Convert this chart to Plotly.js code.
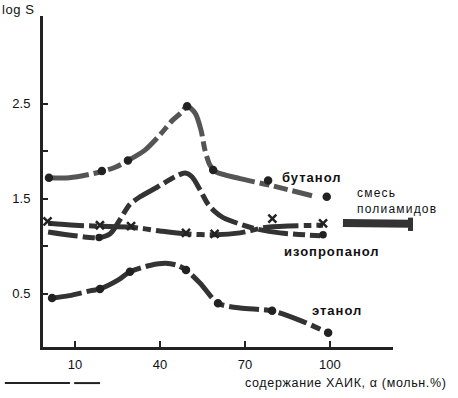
<!DOCTYPE html>
<html><head><meta charset="utf-8">
<script src="https://cdn.plot.ly/plotly-3.0.1.min.js"></script>
<style>body{margin:0;background:#fff}#c{width:458px;height:398px}</style>
</head><body><div id="c"></div>
<script>
// Butanol
const butX = [0.8, 8, 18.8, 24.2, 28.7, 34.7, 40, 44.3, 47.4, 49.6, 52.4, 54.5, 55.9, 57.7, 59.8, 68.3, 79, 93.7];
const butY = [1.72, 1.72, 1.78, 1.83, 1.90, 2.01, 2.17, 2.32, 2.40, 2.47, 2.40, 2.22, 2.01, 1.85, 1.78, 1.71, 1.64, 1.53];
const butMX = [0.8, 19.5, 28.7, 49.6, 58.8, 78.2, 98.9];
const butMY = [1.72, 1.79, 1.90, 2.47, 1.80, 1.69, 1.52];
// Isopropanol
const isoX = [0.5, 10, 18.5, 22.4, 25.9, 29.4, 33, 39, 45.3, 48.9, 51.3, 54.2, 57, 59.5, 62.3, 72.9, 82.4, 96.6];
const isoY = [1.15, 1.11, 1.09, 1.13, 1.28, 1.44, 1.52, 1.62, 1.73, 1.77, 1.73, 1.59, 1.44, 1.36, 1.30, 1.19, 1.14, 1.11];
const isoMX = [18.5, 97.6];
const isoMY = [1.09, 1.12];
// Polyamide mixture
const polX = [0.5, 10, 18.5, 29.8, 40, 49.2, 59.5, 68.3, 77.9, 97.6];
const polY = [1.24, 1.22, 1.21, 1.20, 1.16, 1.13, 1.12, 1.14, 1.20, 1.22];
const polMX = [0.3, 18.8, 29.8, 49.2, 59.3, 79.7, 97.6];
const polMY = [1.26, 1.22, 1.21, 1.14, 1.13, 1.29, 1.24];
// Ethanol
const ethX = [1.9, 8, 15.3, 18.8, 25, 29.4, 36.8, 42, 46, 49.2, 54.2, 60.5, 68.3, 79.6, 89.5, 99.4];
const ethY = [0.455, 0.48, 0.53, 0.55, 0.64, 0.73, 0.80, 0.82, 0.80, 0.75, 0.61, 0.40, 0.35, 0.32, 0.22, 0.09];
const ethMX = [1.9, 18.8, 29.4, 49.2, 60.5, 79.6, 99.4];
const ethMY = [0.455, 0.55, 0.73, 0.75, 0.40, 0.32, 0.09];

const xTicks = [10, 40, 70, 100];
const yTicks = [0.5, 1.0, 1.5, 2.0, 2.5];
const yTickText = ['0.5', '', '1.5', '', '2.5'];

const dk = '#333';
function line(x, y, color, dash) {
  return {x, y, type: 'scatter', mode: 'lines', line: {color, width: 5, shape: 'spline', smoothing: 0.8, dash}, hoverinfo: 'skip'};
}
function dots(x, y, symbol, size) {
  return {x, y, type: 'scatter', mode: 'markers', marker: {symbol, size, color: '#222', line: {color: '#222', width: 2.5}}, hoverinfo: 'skip'};
}
const traces = [
  line(butX, butY, '#555', '40px,5px,10px,5px,14px,5px'),
  line(isoX, isoY, dk, '30px,5px,12px,5px'),
  line(polX, polY, dk, '36px,5px,8px,5px'),
  line(ethX, ethY, dk, '30px,5px,10px,5px'),
  dots(butMX, butMY, 'circle', 6),
  dots(isoMX, isoMY, 'circle', 5),
  dots(ethMX, ethMY, 'circle', 6),
  dots(polMX, polMY, 'x-thin', 8)
];
const fnt = {family: 'Liberation Sans, Arial, sans-serif', size: 12, color: '#111'};
const layout = {
  width: 458, height: 398,
  margin: {l: 43, r: 65, t: 16, b: 51},
  paper_bgcolor: '#fff', plot_bgcolor: '#fff',
  showlegend: false,
  font: fnt,
  xaxis: {range: [-1.3, 122.3], tickvals: xTicks, ticktext: xTicks.map(String), ticks: 'inside', ticklen: 6, tickwidth: 2, tickcolor: '#222',
    showline: true, linecolor: '#222', linewidth: 2.5, showgrid: false, zeroline: false, ticklabelstandoff: 4, tickfont: {size: 13, color: '#111'}},
  yaxis: {range: [-0.06, 3.42], tickvals: yTicks, ticktext: yTickText, ticks: 'inside', ticklen: 5, tickwidth: 2, tickcolor: '#222',
    showline: true, linecolor: '#222', linewidth: 3, showgrid: false, zeroline: false, ticklabelstandoff: 7, tickfont: {size: 13, color: '#111'}},
  annotations: [
    {text: 'log S', xref: 'paper', yref: 'paper', x: -0.123, y: 1.048, xanchor: 'left', align: 'left', yanchor: 'top', showarrow: false, font: {size: 13, color: '#111'}},
    {text: 'содержание ХАИК, α (мольн.%)', xref: 'paper', yref: 'paper', x: 0.571, y: -0.109, xanchor: 'left', align: 'left', yanchor: 'middle', showarrow: false, font: {size: 12.5, color: '#111'}},
    {text: '<b>бутанол</b>', x: 82.4, y: 1.72, xanchor: 'left', align: 'left', yanchor: 'middle', showarrow: false, font: {size: 13, color: '#111'}},
    {text: 'смесь<br>полиамидов', x: 108.9, y: 1.47, xanchor: 'left', yanchor: 'middle', align: 'left', showarrow: false, font: {size: 12, color: '#111'}},
    {text: '<b>изопропанол</b>', x: 83.1, y: 0.94, xanchor: 'left', align: 'left', yanchor: 'middle', showarrow: false, font: {size: 13, color: '#111'}},
    {text: '<b>этанол</b>', x: 93.0, y: 0.32, xanchor: 'left', align: 'left', yanchor: 'middle', showarrow: false, font: {size: 13, color: '#111'}}
  ],
  shapes: [
    {type: 'line', xref: 'paper', yref: 'y', x0: 0.857, x1: 1.05, y0: 1.245, y1: 1.235, line: {color: '#333', width: 8}},
    {type: 'line', xref: 'paper', yref: 'y', x0: 1.05, x1: 1.05, y0: 1.30, y1: 1.16, line: {color: '#333', width: 5}},
    {type: 'line', xref: 'paper', yref: 'paper', x0: -0.109, x1: 0.077, y0: -0.109, y1: -0.109, line: {color: '#222', width: 2}},
    {type: 'line', xref: 'paper', yref: 'paper', x0: 0.089, x1: 0.163, y0: -0.109, y1: -0.109, line: {color: '#222', width: 2}}
  ]
};
Plotly.newPlot('c', traces, layout, {staticPlot: true}).then(function () {
  const spacing = [0.6, 0.65, 1.0, 1.2, 1.0, 1.0];
  document.querySelectorAll('.annotation').forEach(function (g) {
    const i = +g.getAttribute('data-index');
    g.querySelectorAll('text').forEach(function (t) { t.style.letterSpacing = spacing[i] + 'px'; });
  });
});
</script></body></html>
